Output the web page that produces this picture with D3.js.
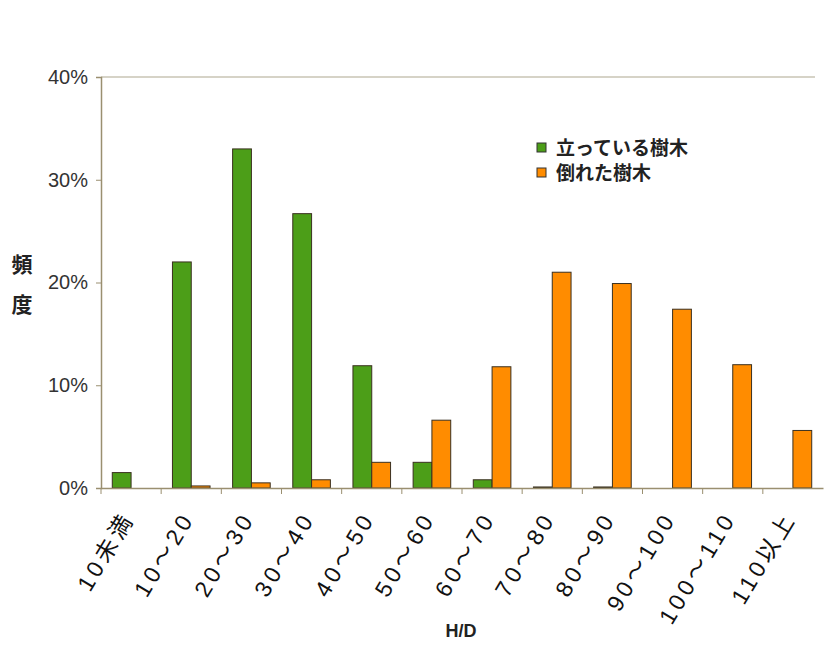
<!DOCTYPE html>
<html><head><meta charset="utf-8">
<script src="https://cdn.jsdelivr.net/npm/d3@7"></script>
<style>body{margin:0;background:#fff}</style>
</head><body>
<script>
const categories = ["10未満","10～20","20～30","30～40","40～50","50～60","60～70","70～80","80～90","90～100","100～110","110以上"];
const standing = [1.5, 22.0, 33.0, 26.7, 11.9, 2.5, 0.8, 0.1, 0.1, 0, 0, 0];
const fallen   = [0, 0.2, 0.5, 0.8, 2.5, 6.6, 11.8, 21.0, 19.9, 17.4, 12.0, 5.6];
const seriesNames = ["立っている樹木","倒れた樹木"];
const yTicks = [0, 10, 20, 30, 40];
const colors = ["#4c9e18", "#ff8c00"];

const W = 825, H = 667;
const m = {left: 101, right: 2, top: 77, bottom: 179};
const svg = d3.select("body").append("svg").attr("width", W).attr("height", H)
  .style("font-family", "Arial, 'Liberation Sans', 'Noto Sans CJK JP', sans-serif");

const x = d3.scaleBand().domain(categories).range([m.left, W - m.right]).paddingInner(0).paddingOuter(0);
const y = d3.scaleLinear().domain([0, 40]).range([H - m.bottom, m.top]);
const inner = d3.scaleBand().domain([0,1]).range([0, x.bandwidth()]).paddingInner(0).paddingOuter(0.6);

// top border
svg.append("line").attr("x1", m.left).attr("x2", 815).attr("y1", y(40)).attr("y2", y(40))
  .attr("stroke", "#c8c4b4").attr("stroke-width", 1.5);

// bars
const data = [standing, fallen];
data.forEach((vals, si) => {
  svg.append("g").selectAll("rect").data(vals).join("rect")
    .attr("x", (d, i) => x(categories[i]) + inner(si))
    .attr("y", d => y(d))
    .attr("width", inner.bandwidth())
    .attr("height", d => y(0) - y(d))
    .attr("fill", colors[si])
    .attr("stroke", "#3a3020").attr("stroke-width", 1);
});

// y axis
const ya = svg.append("g").attr("transform", `translate(${m.left},0)`)
  .call(d3.axisLeft(y).tickValues(yTicks).tickFormat(d => d + "%").tickSize(5).tickPadding(8));
ya.select(".domain").attr("stroke", "#9a8f70").attr("stroke-width", 1.5);
ya.selectAll(".tick line").attr("stroke", "#9a8f70");
ya.selectAll("text").attr("font-size", 20).attr("fill", "#333");

// x axis
const xa = svg.append("g").attr("transform", `translate(0,${y(0)})`)
  .call(d3.axisBottom(x).tickSize(6).tickSizeOuter(0).tickFormat(""));
xa.select(".domain").attr("stroke", "#9a8f70").attr("stroke-width", 1.5);
xa.selectAll(".tick").attr("transform", d => `translate(${x(d)},0)`);
xa.selectAll(".tick line").attr("stroke", "#9a8f70");

// x labels rotated
svg.append("g").selectAll("text").data(categories).join("text")
  .attr("transform", d => `translate(${x(d) + x.bandwidth()/2 + 4},${y(0) + 30}) rotate(-59)`)
  .attr("text-anchor", "end")
  .attr("font-size", 23)
  .attr("letter-spacing", 4)
  .attr("fill", "#111")
  .text(d => d);

// axis titles
svg.append("text").attr("x", 461).attr("y", 637).attr("text-anchor", "middle")
  .attr("font-size", 18).attr("font-weight", "bold").attr("fill", "#222").text("H/D");
svg.append("text").attr("x", 22).attr("y", 272).attr("text-anchor", "middle")
  .attr("font-size", 21).attr("font-weight", "bold").attr("fill", "#222").text("頻");
svg.append("text").attr("x", 22).attr("y", 312).attr("text-anchor", "middle")
  .attr("font-size", 21).attr("font-weight", "bold").attr("fill", "#222").text("度");

// legend
const lg = svg.append("g").attr("transform", "translate(537,143)");
seriesNames.forEach((n, i) => {
  lg.append("rect").attr("x", 0).attr("y", i * 25).attr("width", 9).attr("height", 9)
    .attr("fill", colors[i]).attr("stroke", "#333").attr("stroke-width", 1);
  lg.append("text").attr("x", 19).attr("y", i * 25 + 12).attr("font-size", 19)
    .attr("font-weight", "bold").attr("fill", "#222").text(n);
});
</script>
</body></html>
